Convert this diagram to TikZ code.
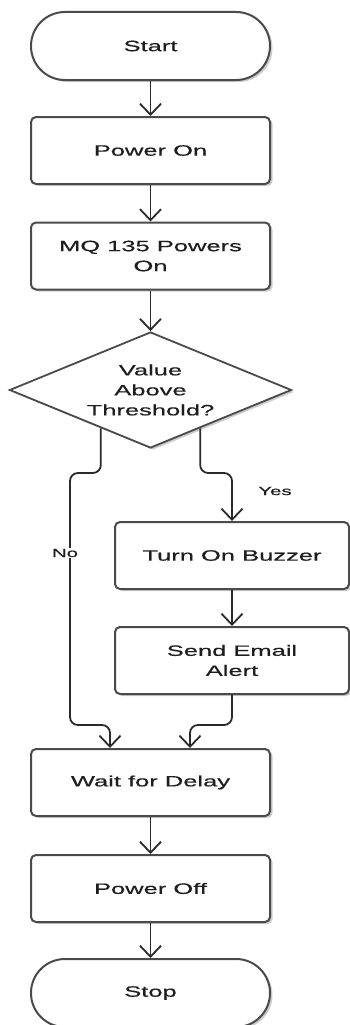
\documentclass[tikz,border=0pt]{standalone}
\usepackage{fontspec}
\newfontfamily\flowfont[FakeStretch=1.7,FakeBold=0.5]{Liberation Sans}
\usetikzlibrary{arrows.meta,shapes.geometric,shadows,calc}
\definecolor{edgegray}{HTML}{4A4A4A}
\definecolor{linegray}{HTML}{2A2A2A}
\definecolor{textgray}{HTML}{1E1E1E}
\begin{document}
\begin{tikzpicture}[x=1pt,y=-1pt,
  every node/.style={font=\flowfont\fontsize{15}{20}\selectfont, text=textgray, align=center},
  softshadow/.style={drop shadow={shadow xshift=2.5pt, shadow yshift=-2pt, fill=black, opacity=0.2}},
  procbox/.style={draw=edgegray, line width=2pt, fill=white, rounded corners=5pt,
    minimum width=239pt, minimum height=67pt, inner sep=0pt, softshadow},
  termbox/.style={procbox, rounded corners=33.9pt, minimum height=68pt},
  decbox/.style={draw=edgegray, line width=1.8pt, fill=white, diamond, aspect=2.43,
    minimum width=282pt, minimum height=116pt, inner sep=0pt, softshadow},
  conn/.style={draw=linegray, line width=1.8pt, rounded corners=8pt,
    -{Straight Barb[length=11pt,width=21pt,line width=1.8pt]}},
  edgelabel/.style={font=\flowfont\fontsize{12}{14}\selectfont, inner sep=1pt}
]
\useasboundingbox (0,0) rectangle (350,1025);

% main column
\node[termbox] (start) at (150.5,46) {Start};
\node[procbox] (pon) at (150.5,150.5) {Power On};
\node[procbox] (mq) at (150.5,256) {MQ 135 Powers\\On};
\node[decbox] (dec) at (150.5,390) {Value\\Above\\Threshold?};

% "yes" branch
\node[procbox, minimum width=234pt] (buzz) at (232,555.5) {Turn On Buzzer};
\node[procbox, minimum width=234pt] (mail) at (232,660.5) {Send Email\\Alert};

% tail of the flow
\node[procbox] (wait) at (150.5,782.5) {Wait for Delay};
\node[procbox] (poff) at (150.5,888.5) {Power Off};
\node[termbox] (stop) at (150.5,993) {Stop};

% straight connectors
\draw[conn] (start.south) -- (pon.north);
\draw[conn] (pon.south) -- (mq.north);
\draw[conn] (mq.south) -- (dec.north);
\draw[conn] (buzz.south) -- (mail.north);
\draw[conn] (wait.south) -- (poff.north);
\draw[conn] (poff.south) -- (stop.north);

% decision exits
\coordinate (exitno) at ($(dec.south)!0.35!(dec.west)$);
\coordinate (exityes) at ($(dec.south)!0.35!(dec.east)$);
\coordinate (waitin1) at ($(wait.north)+(-40.5,0)$);
\coordinate (waitin2) at ($(wait.north)+(39.5,0)$);

\draw[conn] (exitno) -- (exitno |- 0,473) -- (70,473) -- (70,725)
  -- (waitin1 |- 0,725) -- (waitin1);
\draw[conn] (exityes) -- (exityes |- 0,473) -- (buzz.north |- 0,473) -- (buzz.north);
\draw[conn] (mail.south) -- (mail.south |- 0,725) -- (waitin2 |- 0,725) -- (waitin2);

% branch labels
\node[edgelabel, fill=white] (nolbl) at (65,553) {No};
\node[edgelabel] (yeslbl) at (275,491) {Yes};
\end{tikzpicture}
\end{document}
